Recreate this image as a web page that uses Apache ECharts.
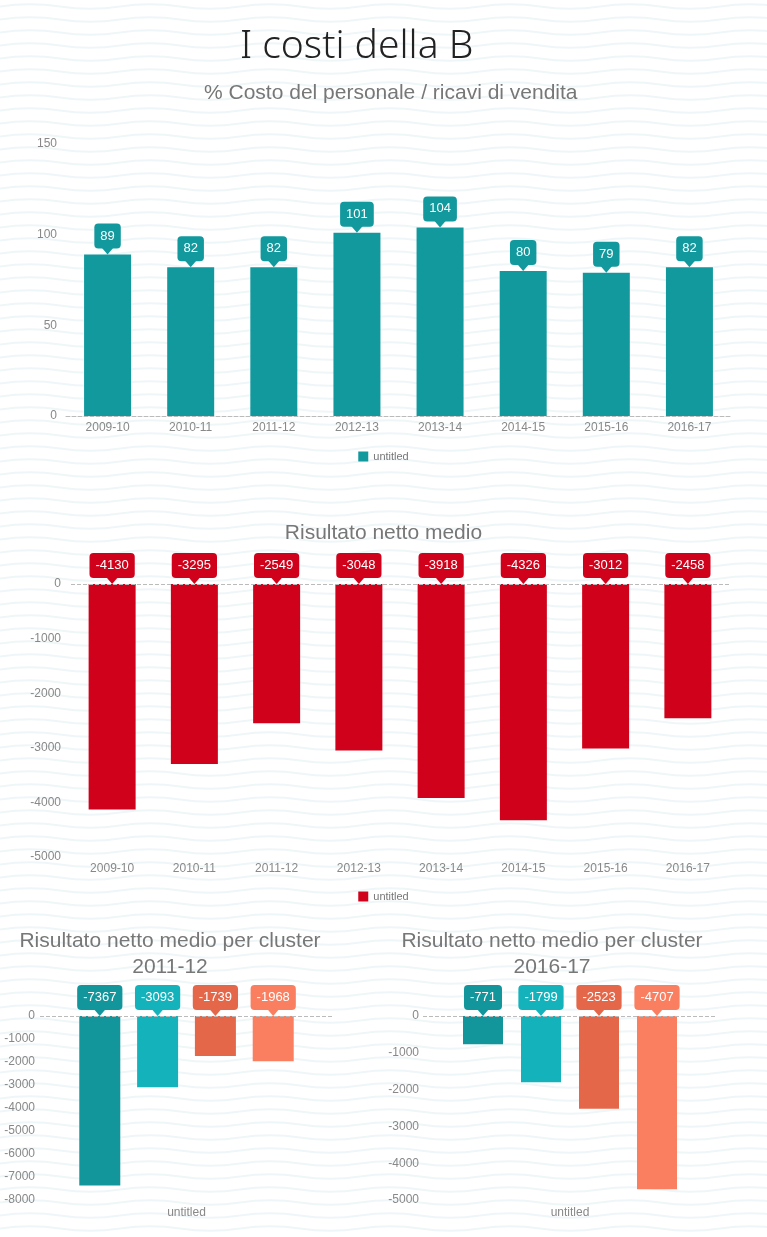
<!DOCTYPE html>
<html>
<head>
<meta charset="utf-8">
<title>I costi della B</title>
<script src="https://cdn.jsdelivr.net/npm/echarts@6/dist/echarts.min.js"></script>
<style>
  html, body { margin: 0; padding: 0; }
  body {
    width: 767px; height: 1237px; position: relative; overflow: hidden;
    background-color: #fff;
    background-image: url("data:image/svg+xml;utf8,<svg xmlns='http://www.w3.org/2000/svg' width='120' height='13'><path d='M0 6.5 Q30 2 60 6.5 T120 6.5' fill='none' stroke='%23eff6f8' stroke-width='2'/></svg>");
  }
  .box { position: absolute; }
</style>
</head>
<body>
<div id="costi" class="box" style="left:0;top:0;width:767px;height:470px"></div>
<div id="risultato" class="box" style="left:0;top:500px;width:767px;height:410px"></div>
<div id="cluster1" class="box" style="left:0;top:910px;width:340px;height:327px"></div>
<div id="cluster2" class="box" style="left:383px;top:910px;width:338px;height:327px"></div>
<script>
// dati
var anni = ['2009-10', '2010-11', '2011-12', '2012-13', '2013-14', '2014-15', '2015-16', '2016-17']
var costoPersonale = [89, 82, 82, 101, 104, 80, 79, 82]
var risultatoNetto = [-4130, -3295, -2549, -3048, -3918, -4326, -3012, -2458]
var clusterCategoria = ['untitled']
var clusterNomi = ['Cluster 1', 'Cluster 2', 'Cluster 3', 'Cluster 4']
var cluster201112 = [-7367, -3093, -1739, -1968]
var cluster201617 = [-771, -1799, -2523, -4707]

var FONT = '"Liberation Sans", Arial, sans-serif'
var TEAL = '#12999e'
var RED = '#d0021b'
var clusterColori = ['#12969c', '#14b3bc', '#e4674a', '#f97f60']

// fumetto sopra la barra: triangolo + etichetta
function fumetto(color, points) {
  return {
    symbol: 'path://M0,0L12,0L6,7Z',
    symbolSize: [12, 7],
    symbolOffset: [0, -3.5],
    itemStyle: { color: color },
    label: {
      show: true, position: 'top', distance: -1,
      formatter: function (p) { return p.value },
      color: '#fff', fontSize: 13, lineHeight: 15, fontFamily: FONT,
      backgroundColor: color, padding: [5, 6], borderRadius: 4
    },
    data: points
  }
}

function lineaZero() {
  return {
    silent: true,
    symbol: ['none', 'none'],
    label: { show: false },
    lineStyle: { type: 'dashed', color: '#bbb', width: 1 },
    data: [{ yAxis: 0 }]
  }
}

function asseY(min, max, step, margin) {
  return {
    type: 'value', min: min, max: max, interval: step,
    axisLine: { show: false }, axisTick: { show: false },
    splitLine: { show: false },
    axisLabel: {
      color: '#888', fontSize: 12, fontFamily: FONT, margin: margin,
      formatter: function (v) { return String(v) }
    }
  }
}

function legenda(top, color) {
  return {
    top: top, left: 'center', itemWidth: 10, itemHeight: 10, icon: 'rect',
    textStyle: { color: '#777', fontSize: 11, fontFamily: FONT },
    data: [{ name: 'untitled', itemStyle: { color: color } }]
  }
}

// grafico 1
var c1 = echarts.init(document.getElementById('costi'))
c1.setOption({
  animation: false,
  title: [{
    text: 'I costi della B', left: 240, top: 27, padding: 0,
    textStyle: { fontFamily: '"Noto Sans", "Open Sans", sans-serif', fontWeight: 300, fontSize: 39, color: '#222' }
  }, {
    text: '% Costo del personale / ricavi di vendita', left: 204, top: 83, padding: 0,
    textStyle: { fontFamily: FONT, fontWeight: 'normal', fontSize: 21, color: '#777' }
  }],
  legend: legenda(446, TEAL),
  grid: { left: 66, right: 36, top: 144, bottom: 54 },
  xAxis: {
    type: 'category', data: anni,
    axisTick: { show: false },
    axisLine: { lineStyle: { type: 'dashed', color: '#bbb' } },
    axisLabel: { color: '#888', fontSize: 12, fontFamily: FONT, margin: 6 }
  },
  yAxis: asseY(0, 150, 50, 9),
  series: [{
    name: 'untitled', type: 'bar', barWidth: 47,
    itemStyle: { color: TEAL },
    data: costoPersonale,
    markPoint: fumetto(TEAL, costoPersonale.map(function (v, i) {
      return { coord: [anni[i], v], value: v }
    }))
  }]
})

// grafico 2
var c2 = echarts.init(document.getElementById('risultato'))
c2.setOption({
  animation: false,
  title: {
    text: 'Risultato netto medio', left: 'center', top: 23, padding: 0,
    textStyle: { fontFamily: FONT, fontWeight: 'normal', fontSize: 21, color: '#777' }
  },
  legend: legenda(386, RED),
  grid: { left: 71, right: 38, top: 84, bottom: 53 },
  xAxis: {
    type: 'category', data: anni,
    axisTick: { show: false },
    axisLine: { show: false, onZero: false },
    axisLabel: { color: '#888', fontSize: 12, fontFamily: FONT, margin: 6 }
  },
  yAxis: asseY(-5000, 0, 1000, 10),
  series: [{
    name: 'untitled', type: 'bar', barWidth: 47,
    itemStyle: { color: RED },
    data: risultatoNetto,
    markLine: lineaZero(),
    markPoint: fumetto(RED, risultatoNetto.map(function (v, i) {
      return { coord: [anni[i], 0], value: v }
    }))
  }]
})

// grafici per cluster
function graficoCluster(id, anno, valori, minY, barW, gap, yMargin, gridRight) {
  var c = echarts.init(document.getElementById(id))
  c.setOption({
    animation: false,
    title: {
      text: 'Risultato netto medio per cluster\n' + anno, left: 'center', top: 18, padding: 0,
      textStyle: { fontFamily: FONT, fontWeight: 'normal', fontSize: 21, lineHeight: 26, color: '#777', align: 'center' }
    },
    grid: { left: 40, right: gridRight, top: 106, bottom: 37 },
    xAxis: {
      type: 'category', data: clusterCategoria,
      axisTick: { show: false },
      axisLine: { show: false, onZero: false },
      axisLabel: { color: '#888', fontSize: 12, fontFamily: FONT, margin: 7 }
    },
    yAxis: asseY(minY, 0, 1000, yMargin),
    series: clusterNomi.map(function (nome, k) {
      var s = {
        name: nome, type: 'bar', barWidth: barW, barGap: gap,
        itemStyle: { color: clusterColori[k] },
        data: [valori[k]],
        markPoint: fumetto(clusterColori[k], [{ coord: [clusterCategoria[0], 0], value: valori[k] }])
      }
      if (k === 0) s.markLine = lineaZero()
      return s
    })
  })
}

graficoCluster('cluster1', '2011-12', cluster201112, -8000, 41, '41%', 5, 7)
graficoCluster('cluster2', '2016-17', cluster201617, -5000, 40, '45%', 4, 4)
</script>
</body>
</html>
